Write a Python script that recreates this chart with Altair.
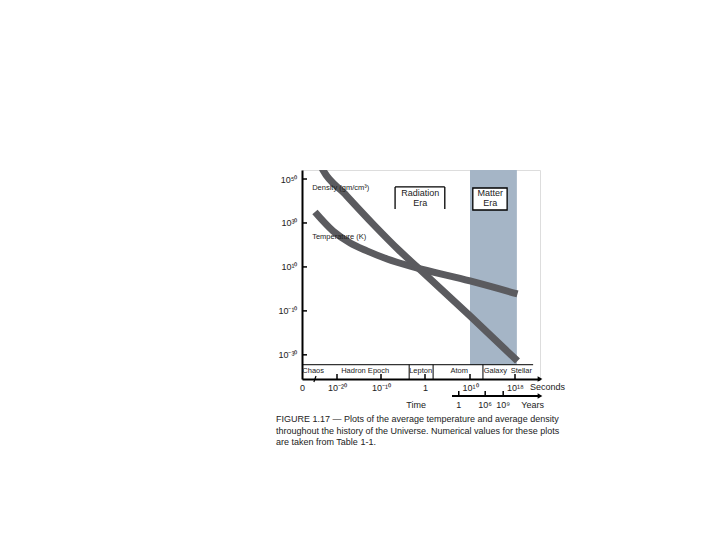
import altair as alt
import pandas as pd

# ---- data (x = log10 seconds, y = log10 value) ----
temp_logt = [-26.3, -21.1, -17.0, -13.2, -8.6, -2.7, 10.0, 18.4]
temp_logv = [35.0, 26.3, 20.9, 17.3, 13.6, 10.0, 3.6, -2.3]
dens_logt = [-24.3, -24.0, -18.2, -11.8, -5.7, -1.8, 10.0, 18.4]
dens_logv = [55.0, 54.1, 43.2, 29.5, 17.2, 10.0, -12.3, -32.8]

x_tick_vals = [-30, -20, -10, 0, 10, 18]
x_tick_labels = ["0", "10⁻²⁰", "10⁻¹⁰", "1", "10¹⁰", "10¹⁸"]
y_tick_vals = [50, 30, 10, -10, -30]
y_tick_labels = ["10⁵⁰", "10³⁰", "10¹⁰", "10⁻¹⁰", "10⁻³⁰"]

year_tick_pos = [7.5, 12.7, 15.9]
year_tick_labels = ["1", "10⁶", "10⁹"]

matter_era = [10.0, 18.3]
epoch_separators = [-3.6, 1.8, 12.3]
epoch_names = ["Chaos", "Hadron Epoch", "Lepton", "Atom", "Galaxy", "Stellar"]
epoch_centers = [-26.8, -13.6, -1.0, 7.6, 14.5, 19.0]

caption = ["FIGURE 1.17 — Plots of the average temperature and average density",
           "throughout the history of the Universe. Numerical values for these plots",
           "are taken from Table 1-1."]

FONT = "Liberation Sans"
INK = "#222222"
W, H = 238, 209
X_MIN, X_MAX = -30, 22
Y_MIN, Y_MAX = -41, 54.1
EPOCH_TOP = -34.5

xs = alt.Scale(domain=[-30, -20, -10, 0, 10, 18, 22], range=[0, 35, 79, 123, 168, 213, 238])
ys = alt.Scale(domain=[Y_MIN, Y_MAX], nice=False, zero=False)


def label_expr(vals, labels):
    expr = "''"
    for v, l in reversed(list(zip(vals, labels))):
        expr = f"datum.value == {v} ? '{l}' : ({expr})"
    return expr


x_axis = alt.Axis(values=x_tick_vals, labelExpr=label_expr(x_tick_vals, x_tick_labels),
                  ticks=False, grid=False, title=None, domainColor="black", domainWidth=2,
                  labelFont=FONT, labelFontSize=9, labelColor=INK, labelPadding=4, labelFlush=False)
y_axis = alt.Axis(values=y_tick_vals, labelExpr=label_expr(y_tick_vals, y_tick_labels),
                  ticks=False, grid=False, title=None, domainColor="black", domainWidth=2,
                  labelFont=FONT, labelFontSize=9, labelColor=INK, labelPadding=5)


def X(f):
    return alt.X(f, type="quantitative", scale=xs, axis=x_axis)


def Y(f):
    return alt.Y(f, type="quantitative", scale=ys, axis=y_axis)


curves = pd.concat([
    pd.DataFrame({"t": temp_logt, "v": temp_logv, "s": "Temperature"}),
    pd.DataFrame({"t": dens_logt, "v": dens_logv, "s": "Density"}),
])

band = alt.Chart(pd.DataFrame({"x": [matter_era[0]], "x2": [matter_era[1]],
                               "y": [EPOCH_TOP], "y2": [Y_MAX]})).mark_rect(
    color="#a5b5c6").encode(x=X("x"), x2="x2:Q", y=Y("y"), y2="y2:Q")

lines = alt.Chart(curves).mark_line(
    color="#5b5b5f", strokeWidth=7, strokeCap="butt", strokeJoin="round",
    interpolate="monotone", clip=True).encode(x=X("t"), y=Y("v"), detail="s:N")

# axis ticks pointing inward
xt = alt.Chart(pd.DataFrame({"x": x_tick_vals[1:]})).mark_rule(color="black", strokeWidth=1.5).encode(
    x=X("x"), y=alt.value(H), y2=alt.value(H - 5))
yt = alt.Chart(pd.DataFrame({"y": y_tick_vals})).mark_rule(color="black", strokeWidth=1.5).encode(
    y=Y("y"), x=alt.value(0), x2=alt.value(5))

# axis break mark
brk = alt.Chart(pd.DataFrame({"x": [-26.6], "x2": [-26.0]})).mark_rule(color="black", strokeWidth=1.2).encode(
    x=X("x"), x2="x2:Q", y=alt.value(H + 3), y2=alt.value(H - 3))

# epoch strip
epoch_top = alt.Chart(pd.DataFrame({"x": [X_MIN], "x2": [20.9], "y": [EPOCH_TOP]})).mark_rule(
    color="black", strokeWidth=1).encode(x=X("x"), x2="x2:Q", y=Y("y"))
epoch_sep = alt.Chart(pd.DataFrame({"x": epoch_separators, "y": EPOCH_TOP, "y2": Y_MIN})).mark_rule(
    color="black", strokeWidth=1).encode(x=X("x"), y=Y("y"), y2="y2:Q")
epoch_txt = alt.Chart(pd.DataFrame({"x": epoch_centers, "n": epoch_names, "y": -37.5})).mark_text(
    font=FONT, fontSize=7.5, color=INK, baseline="middle").encode(x=X("x"), y=Y("y"), text="n:N")

# era boxes
rad_box = alt.Chart(pd.DataFrame({
    "x": [-6.8, -6.8, 4.4], "x2": [4.4, -6.8, 4.4],
    "y": [46.4, 46.4, 46.4], "y2": [46.4, 36.4, 36.4]})).mark_rule(color="black", strokeWidth=1.3).encode(
    x=X("x"), x2="x2:Q", y=Y("y"), y2="y2:Q")
mat_box = alt.Chart(pd.DataFrame({"x": [10.5], "x2": [16.6], "y": [35.9], "y2": [45.9]})).mark_rect(
    fill="white", stroke="black", strokeWidth=1.3).encode(x=X("x"), x2="x2:Q", y=Y("y"), y2="y2:Q")
era_txt = alt.Chart(pd.DataFrame({
    "x": [-1.1, -1.1, 13.6, 13.6], "y": [43.6, 39.1, 43.6, 39.1],
    "t": ["Radiation", "Era", "Matter", "Era"]})).mark_text(
    font=FONT, fontSize=9, color=INK, baseline="middle").encode(x=X("x"), y=Y("y"), text="t:N")

curve_txt = alt.Chart(pd.DataFrame({
    "x": [-27.1, -27.1], "y": [45.9, 23.6],
    "t": ["Density (gm/cm³)", "Temperature (K)"]})).mark_text(
    font=FONT, fontSize=7.5, color=INK, align="left", baseline="middle").encode(
    x=X("x"), y=Y("y"), text="t:N")

# arrows on the seconds axis and years axis
arrow_s = alt.Chart(pd.DataFrame({"x": [X_MAX]})).mark_point(
    shape="triangle-right", filled=True, color="black", size=30, opacity=1).encode(
    x=X("x"), y=alt.value(H))
arrow_y = alt.Chart(pd.DataFrame({"x": [X_MAX]})).mark_point(
    shape="triangle-right", filled=True, color="black", size=30, opacity=1).encode(
    x=X("x"), y=alt.value(H + 17))

years_line = alt.Chart(pd.DataFrame({"x": [6.0], "x2": [X_MAX]})).mark_rule(
    color="black", strokeWidth=2).encode(x=X("x"), x2="x2:Q", y=alt.value(H + 17))
years_ticks = alt.Chart(pd.DataFrame({"x": year_tick_pos})).mark_rule(
    color="black", strokeWidth=1.5).encode(x=X("x"), y=alt.value(H + 17), y2=alt.value(H + 12))
years_lab = alt.Chart(pd.DataFrame({"x": year_tick_pos, "t": year_tick_labels})).mark_text(
    font=FONT, fontSize=9, color=INK, baseline="middle").encode(
    x=X("x"), y=alt.value(H + 26), text="t:N")

sec_txt = alt.Chart(pd.DataFrame({"x": [20.4], "t": ["Seconds"]})).mark_text(
    font=FONT, fontSize=9, color=INK, baseline="middle", align="left").encode(
    x=X("x"), y=alt.value(H + 8), text="t:N")
yr_txt = alt.Chart(pd.DataFrame({"x": [19.0], "t": ["Years"]})).mark_text(
    font=FONT, fontSize=9, color=INK, baseline="middle", align="left").encode(
    x=X("x"), y=alt.value(H + 26), text="t:N")
time_txt = alt.Chart(pd.DataFrame({"x": [-2.0], "t": ["Time"]})).mark_text(
    font=FONT, fontSize=9, color=INK, baseline="middle", align="center").encode(
    x=X("x"), y=alt.value(H + 26), text="t:N")

cap = alt.Chart(pd.DataFrame({"a": [0]})).mark_text(
    text=caption, font=FONT, fontSize=9, color=INK, align="left", baseline="top",
    lineHeight=11.5).encode(x=alt.value(-26), y=alt.value(H + 36))

chart = alt.layer(
    band, lines, curve_txt, xt, yt, brk, epoch_top, epoch_sep, epoch_txt,
    rad_box, mat_box, era_txt, years_line, years_ticks, years_lab, arrow_s, arrow_y,
    sec_txt, yr_txt, time_txt, cap
).properties(
    width=W, height=H,
    autosize=alt.AutoSizeParams(type="none"),
    padding={"left": 294, "top": 162, "right": 172, "bottom": 153},
).configure_view(strokeWidth=0).configure(background="white")

chart.save("out.html", embed_options={"renderer": "svg", "actions": False})
